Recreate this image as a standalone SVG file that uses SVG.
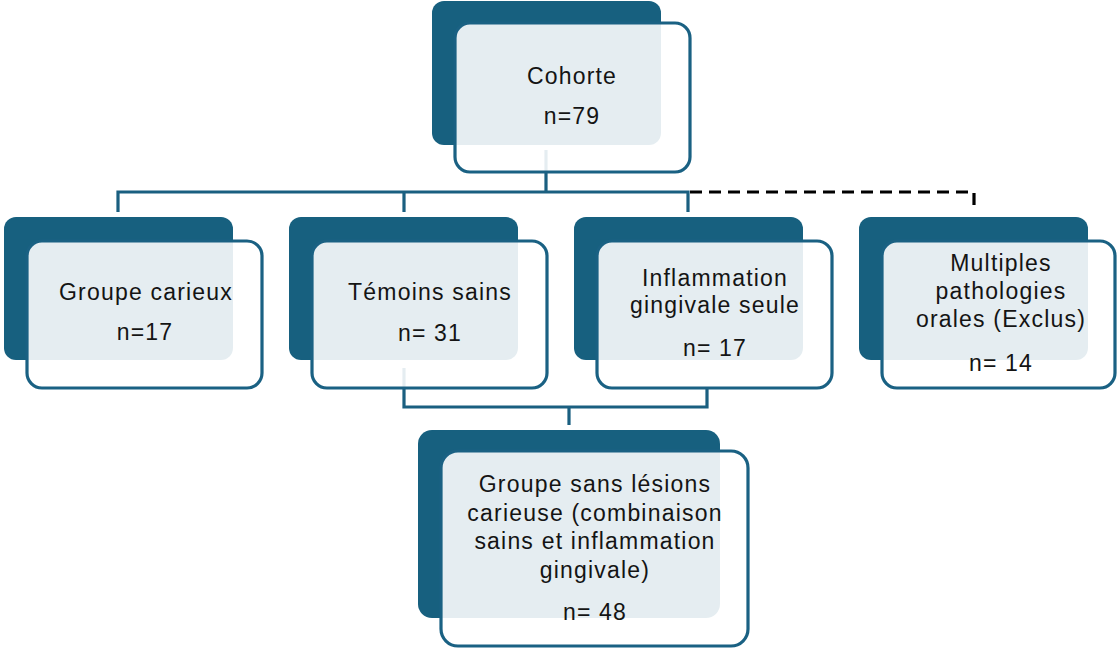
<svg xmlns="http://www.w3.org/2000/svg" width="1117" height="648" viewBox="0 0 1117 648">
<style>
.back{fill:#17607f}
.front{fill:#ffffff;fill-opacity:0.89;stroke:#1a6183;stroke-width:3.2}
.conn{fill:none;stroke:#1a5f80;stroke-width:3.2}
.dash{fill:none;stroke:#000;stroke-width:3.2;stroke-dasharray:12 7}
text{font-family:"Liberation Sans",Arial,sans-serif;font-size:23px;letter-spacing:1.2px;fill:#141414;text-anchor:middle}
</style>
<rect width="1117" height="648" fill="#fff"/>
<g id="connectors">
<path class="conn" d="M546 150V192M118 212V192H688V212M404 192V212"/>
<path class="dash" d="M690 192H974V212"/>
<path class="conn" d="M404 368V407H707V388M569 407V425"/>
</g>
<g id="n_cohorte">
<rect class="back" x="432" y="1" width="229" height="144" rx="12"/>
<rect class="front" x="455" y="23" width="235" height="149" rx="15"/>
<text x="572" y="84">Cohorte</text>
<text x="572" y="124">n=79</text>
</g>
<g id="n_carieux">
<rect class="back" x="4" y="217" width="229" height="143" rx="12"/>
<rect class="front" x="27" y="241" width="235" height="147" rx="15"/>
<text x="146" y="300">Groupe carieux</text>
<text x="145" y="340">n=17</text>
</g>
<g id="n_temoins">
<rect class="back" x="289" y="217" width="229" height="143" rx="12"/>
<rect class="front" x="312" y="241" width="235" height="147" rx="15"/>
<text x="430" y="300">Témoins sains</text>
<text x="430" y="341">n= 31</text>
</g>
<g id="n_inflammation">
<rect class="back" x="574" y="217" width="229" height="143" rx="12"/>
<rect class="front" x="597" y="241" width="235" height="147" rx="15"/>
<text x="715" y="286">Inflammation</text>
<text x="715" y="313">gingivale seule</text>
<text x="715" y="356">n= 17</text>
</g>
<g id="n_multiples">
<rect class="back" x="859" y="217" width="229" height="143" rx="12"/>
<rect class="front" x="882" y="241" width="233" height="147" rx="15"/>
<text x="1001" y="271">Multiples</text>
<text x="1001" y="299">pathologies</text>
<text x="1001" y="327">orales (Exclus)</text>
<text x="1001" y="371">n= 14</text>
</g>
<g id="n_sans_lesions">
<rect class="back" x="418" y="430" width="302" height="188" rx="14"/>
<rect class="front" x="441" y="451" width="307" height="195" rx="17"/>
<text x="595" y="492">Groupe sans lésions</text>
<text x="595" y="521">carieuse (combinaison</text>
<text x="595" y="549">sains et inflammation</text>
<text x="595" y="578">gingivale)</text>
<text x="595" y="620">n= 48</text>
</g>
</svg>
